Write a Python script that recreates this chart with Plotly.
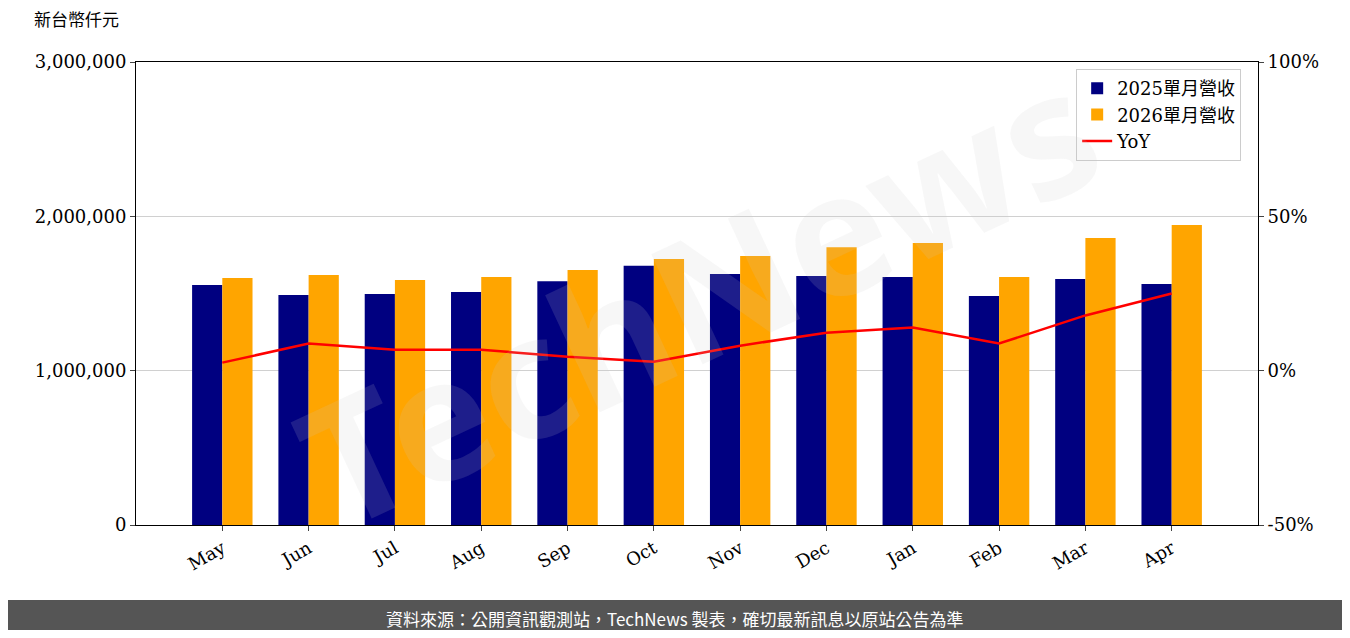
import plotly.graph_objects as go

months = ["May", "Jun", "Jul", "Aug", "Sep", "Oct", "Nov", "Dec", "Jan", "Feb", "Mar", "Apr"]
rev_2025 = [1555000, 1490000, 1497000, 1510000, 1580000, 1680000, 1627000, 1614000, 1607000, 1484000, 1594000, 1562000]
rev_2026 = [1600000, 1620000, 1588000, 1607000, 1653000, 1724000, 1743000, 1800000, 1828000, 1607000, 1860000, 1944000]
yoy = [2.6, 8.8, 6.8, 6.8, 4.5, 2.9, 8.1, 12.3, 14.0, 8.8, 17.9, 25.0]

FONT = "DejaVu Serif, Noto Sans CJK TC"

fig = go.Figure()
fig.add_bar(x=months, y=rev_2025, name="2025單月營收", marker_color="#000080",
            marker_line_width=0, offsetgroup=0)
fig.add_bar(x=months, y=rev_2026, name="2026單月營收", marker_color="#FFA500",
            marker_line_width=0, offsetgroup=1)
fig.add_scatter(x=months, y=yoy, name="YoY", mode="lines", line=dict(color="red", width=2.5), yaxis="y2")

# the page has an 8px body margin, so the figure is drawn 16px smaller
fig.update_layout(
    width=1334, height=622,
    margin=dict(l=128, r=84, t=54, b=105),
    plot_bgcolor="white", paper_bgcolor="white",
    font=dict(family=FONT, size=18, color="black"),
    bargap=0.3, bargroupgap=0,
    xaxis=dict(showline=True, linecolor="black", mirror=True, ticks="outside",
               tickangle=-30, range=[-1, 12], automargin=False),
    yaxis=dict(range=[0, 3000000], tickvals=[0, 1000000, 2000000, 3000000], tickformat=",",
               showline=True, linecolor="black", ticks="outside", showgrid=True,
               gridcolor="#d0d0d0", zeroline=False, automargin=False),
    yaxis2=dict(range=[-50, 100], tickvals=[-50, 0, 50, 100],
                ticktext=["-50%", "0%", "50%", "100%"],
                overlaying="y", side="right", showline=True, linecolor="black",
                ticks="outside", showgrid=False, zeroline=False, automargin=False),
    legend=dict(x=0.985, y=0.985, xanchor="right", yanchor="top", bordercolor="#cccccc",
                borderwidth=1, bgcolor="rgba(255,255,255,0.8)", font=dict(size=18)),
    shapes=[dict(type="rect", xref="paper", yref="paper", x0=-0.12, x1=1.08,
                 y0=-0.24, y1=-0.162, fillcolor="#555555", line_width=0, layer="below")],
    annotations=[
        dict(text="新台幣仟元", xref="paper", yref="paper", x=-0.093, y=1.065,
             showarrow=False, xanchor="left", yanchor="bottom", font=dict(size=17)),
        dict(text="資料來源：公開資訊觀測站，TechNews 製表，確切最新訊息以原站公告為準",
             xref="paper", yref="paper", x=0.48, y=-0.203, yanchor="middle",
             xanchor="center", showarrow=False,
             font=dict(family="Noto Sans CJK TC", size=17, color="white")),
        dict(text="<b>TechNews</b>", xref="paper", yref="paper", x=0.5, y=0.5,
             showarrow=False, textangle=-25, font=dict(family="Noto Sans", size=170,
             color="rgba(200,200,200,0.15)")),
    ],
)

fig.write_html("out.html")
